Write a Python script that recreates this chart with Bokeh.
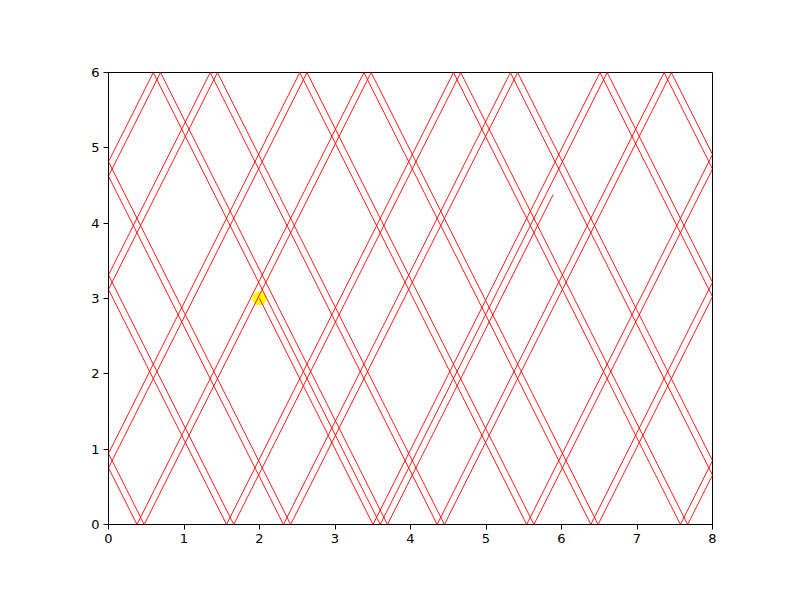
from bokeh.plotting import figure
from bokeh.models import Range1d, FixedTicker
from bokeh.embed import file_html
from bokeh.resources import INLINE

# Ball path vertices (x, y): start, wall bounces, end
path_x = [2.0, 3.503, 6.509, 8.0, 6.485, 3.479, 0.473, 0.0, 2.533, 5.539,
          8.0, 7.455, 4.449, 1.443, 0.0, 1.563, 4.569, 7.575, 8.0, 5.419,
          2.413, 0.0, 0.593, 3.599, 6.605, 8.0, 6.389, 3.383, 0.377, 0.0,
          2.629, 5.635, 8.0, 7.359, 4.353, 1.347, 0.0, 1.659, 4.665, 7.671,
          8.0, 5.323, 2.317, 0.0, 0.689, 3.695, 5.89]
path_y = [3.0, 0.0, 6.0, 3.024, 0.0, 6.0, 0.0, 0.944, 6.0, 0.0,
          4.912, 6.0, 0.0, 6.0, 3.12, 0.0, 6.0, 0.0, 0.848, 6.0,
          0.0, 4.816, 6.0, 0.0, 6.0, 3.216, 0.0, 6.0, 0.0, 0.752,
          6.0, 0.0, 4.72, 6.0, 0.0, 6.0, 3.312, 0.0, 6.0, 0.0,
          0.656, 6.0, 0.0, 4.624, 6.0, 0.0, 4.38]

start_x = [2.0]
start_y = [3.0]

x_ticks = [0, 1, 2, 3, 4, 5, 6, 7, 8]
y_ticks = [0, 1, 2, 3, 4, 5, 6]

p = figure(frame_width=604, frame_height=452,
           min_border_left=108, min_border_right=80,
           min_border_top=72, min_border_bottom=68,
           x_range=Range1d(0, 8), y_range=Range1d(0, 6),
           output_backend="svg", toolbar_location=None)

p.background_fill_color = "white"
p.border_fill_color = "white"
p.outline_line_color = "black"
p.outline_line_width = 1
p.outline_line_alpha = 1
p.xgrid.visible = False
p.ygrid.visible = False

for ax, ticks in ((p.xaxis, x_ticks), (p.yaxis, y_ticks)):
    ax.ticker = FixedTicker(ticks=ticks)
    ax.axis_line_color = "black"
    ax.major_tick_line_color = "black"
    ax.major_tick_out = 5
    ax.major_tick_in = 0
    ax.minor_tick_line_color = None
    ax.major_label_text_font = "DejaVu Sans"
    ax.major_label_text_font_size = "13px"
    ax.major_label_text_color = "black"
    ax.major_label_standoff = 4

p.scatter(start_x, start_y, size=14, color="yellow", line_color=None)
p.line(path_x, path_y, line_color="red", line_width=0.9)

open("out.html", "w").write(file_html(p, INLINE))
